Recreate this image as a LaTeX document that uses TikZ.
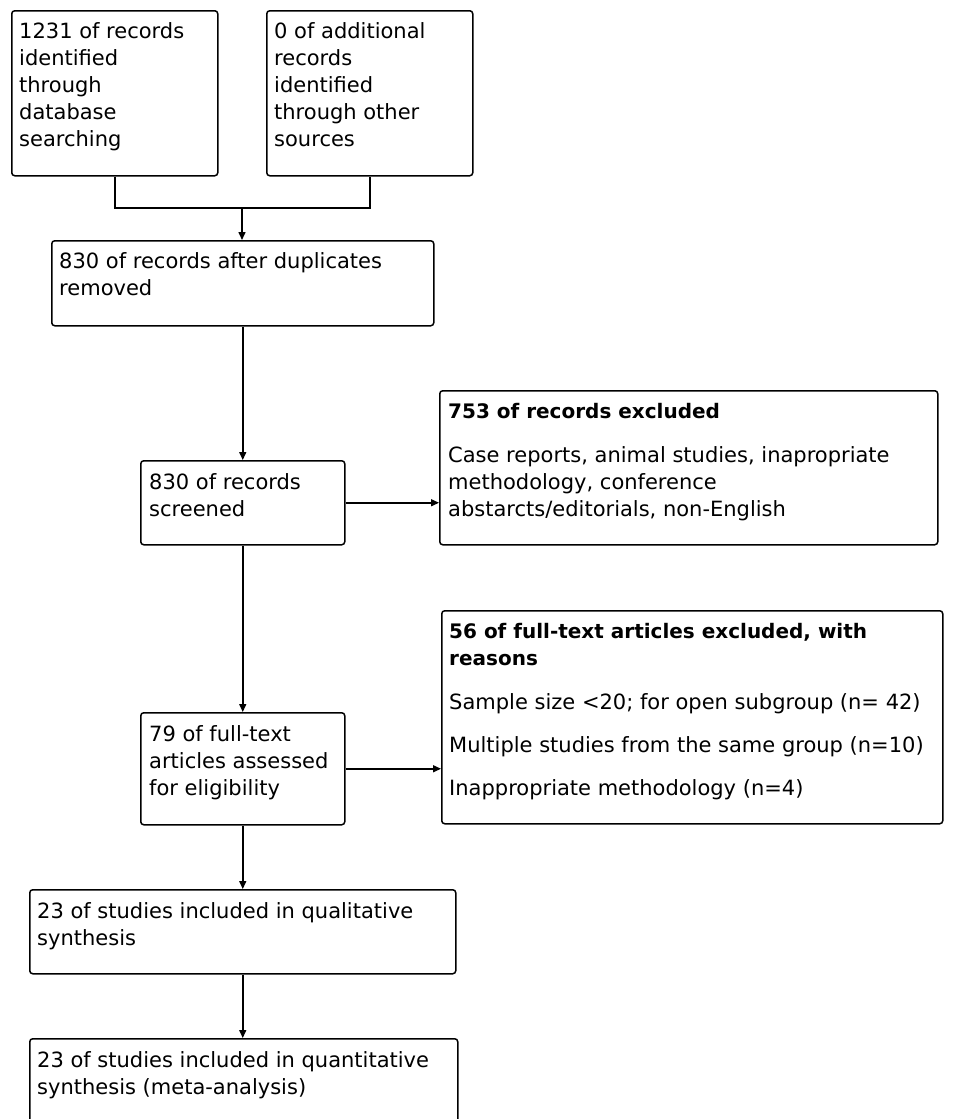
\documentclass[tikz,border=0pt]{standalone}
\usepackage{fontspec}
\setmainfont{DejaVu Sans}
\usetikzlibrary{arrows.meta}
\begin{document}
\begin{tikzpicture}[x=1pt,y=-1pt,
  box/.style={draw=black, line width=1.5pt, rounded corners=3pt, inner sep=0pt, anchor=north west},
  txt/.style={anchor=north west, inner sep=0pt, align=left, font=\fontsize{21}{27}\selectfont},
  hd/.style={anchor=north west, inner sep=0pt, align=left, font=\fontsize{20}{27}\selectfont\bfseries},
  ln/.style={line width=1.5pt},
  arr/.style={line width=1.5pt, -{Triangle[length=8pt,width=7pt]}}]
\useasboundingbox (0,0) rectangle (957,1119);
\clip (0,0) rectangle (957,1119);
% boxes
\node[box, minimum width=206pt, minimum height=165pt] (a) at (11,10) {};
\node[box, minimum width=206pt, minimum height=165pt] (b) at (266,10) {};
\node[box, minimum width=382pt, minimum height=85pt] (c) at (51,240) {};
\node[box, minimum width=204pt, minimum height=84pt] (d) at (140,460) {};
\node[box, minimum width=498pt, minimum height=154pt] (e) at (439,390) {};
\node[box, minimum width=501pt, minimum height=213pt] (f) at (441,610) {};
\node[box, minimum width=204pt, minimum height=112pt] (g) at (140,712) {};
\node[box, minimum width=426pt, minimum height=84pt] (h) at (29,889) {};
\node[box, minimum width=428pt, minimum height=100pt] (i) at (29,1038) {};
% texts
\node[txt] (ta) at (19,22) {1231 of records\\identified\\through\\database\\searching};
\node[txt] (tb) at (274,22) {0 of additional\\records\\identified\\through other\\sources};
\node[txt] (tc) at (59,252) {830 of records after duplicates\\removed};
\node[txt] (td) at (149,473) {830 of records\\screened};
\node[hd] (te1) at (448,403) {753 of records excluded};
\node[txt] (te2) at (448,446) {Case reports, animal studies, inapropriate\\methodology, conference\\abstarcts/editorials, non-English};
\node[hd] (tf1) at (449,623) {56 of full-text articles excluded, with\\reasons};
\node[txt] (tf2) at (449,693) {Sample size <20; for open subgroup (n= 42)\\[16pt]Multiple studies from the same group (n=10)\\[16pt]Inappropriate methodology (n=4)};
\node[txt] (tg) at (149,725) {79 of full-text\\articles assessed\\for eligibility};
\node[txt] (th) at (37,902) {23 of studies included in qualitative\\synthesis};
\node[txt] (ti) at (37,1051) {23 of studies included in quantitative\\synthesis (meta-analysis)};
% connectors
\coordinate (j) at (242,208);
\draw[ln] (a.south) |- (j) -| (b.south);
\draw[arr] (j) -- (j |- c.north);
\draw[arr] (d.north |- c.south) -- (d.north);
\draw[arr] (d.east) -- (d.east -| e.west);
\draw[arr] (d.south) -- (g.north);
\draw[arr] (g.east) -- (g.east -| f.west);
\draw[arr] (g.south) -- (g.south |- h.north);
\draw[arr] (g.south |- h.south) -- (g.south |- i.north);
\end{tikzpicture}
\end{document}
